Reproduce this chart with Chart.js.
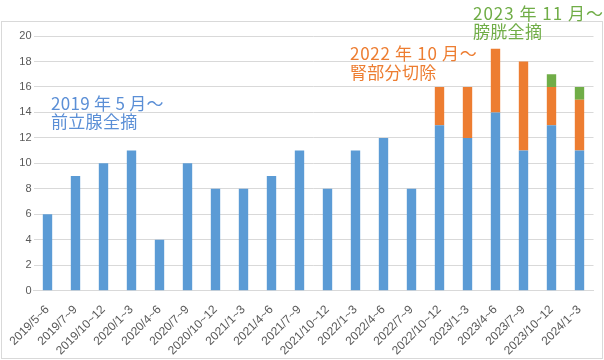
<!DOCTYPE html>
<html>
<head>
<meta charset="utf-8">
<script src="https://cdn.jsdelivr.net/npm/chart.js@4"></script>
<style>
  body { margin: 0; background: #fff; }
  canvas { display: block; }
</style>
</head>
<body>
<canvas id="barChart" width="604" height="360"></canvas>
<script>
// 四半期ごとの件数
const quarters = ['2019/5~6', '2019/7~9', '2019/10~12', '2020/1~3', '2020/4~6', '2020/7~9', '2020/10~12',
  '2021/1~3', '2021/4~6', '2021/7~9', '2021/10~12', '2022/1~3', '2022/4~6', '2022/7~9', '2022/10~12',
  '2023/1~3', '2023/4~6', '2023/7~9', '2023/10~12', '2024/1~3'];
const prostate = [6, 9, 10, 11, 4, 10, 8, 8, 9, 11, 8, 11, 12, 8, 13, 12, 14, 11, 13, 11];
const kidney = [null, null, null, null, null, null, null, null, null, null, null, null, null, null, 3, 4, 5, 7, 3, 4];
const bladder = [null, null, null, null, null, null, null, null, null, null, null, null, null, null, null, null, null, null, 1, 1];
const yTicks = [0, 2, 4, 6, 8, 10, 12, 14, 16, 18, 20];

const blue = '#5B9BD5', orange = '#ED7D31', green = '#70AD47';

// 注記テキスト
const notes = [
  { lines: ['2019 年 5 月～', '前立腺全摘'], x: 51, y: [109.5, 128], color: '#5B8FD6', spacing: '0.3px' },
  { lines: ['2022 年 10 月～', '腎部分切除'], x: 350, y: [60, 78.5], color: orange, spacing: '0.7px' },
  { lines: ['2023 年 11 月～', '膀胱全摘'], x: 473, y: [20.3, 38], color: green, spacing: '1px' }
];

const framePlugin = {
  id: 'frame',
  beforeDraw(chart) {
    const ctx = chart.ctx;
    ctx.save();
    ctx.fillStyle = '#fff';
    ctx.fillRect(0, 0, chart.width, chart.height);
    ctx.strokeStyle = '#D9D9D9';
    ctx.lineWidth = 1;
    ctx.strokeRect(1.5, 21.5, 601, 337);
    ctx.restore();
  },
  afterDraw(chart) {
    const ctx = chart.ctx;
    ctx.save();
    ctx.font = '17px "Noto Sans CJK JP", sans-serif';
    ctx.textBaseline = 'alphabetic';
    ctx.textAlign = 'left';
    notes.forEach(n => {
      ctx.fillStyle = n.color;
      n.lines.forEach((t, i) => {
        ctx.letterSpacing = i === 0 ? n.spacing : '0.3px';
        ctx.fillText(t, n.x, n.y[i]);
      });
    });
    ctx.restore();
  }
};

new Chart(document.getElementById('barChart'), {
  type: 'bar',
  data: {
    labels: quarters,
    datasets: [
      { data: prostate, backgroundColor: blue },
      { data: kidney, backgroundColor: orange },
      { data: bladder, backgroundColor: green }
    ]
  },
  options: {
    responsive: false,
    animation: false,
    layout: { padding: { left: 0, top: 36, right: 10.5, bottom: 0 } },
    datasets: { bar: { categoryPercentage: 1, barPercentage: 0.335 } },
    plugins: { legend: { display: false }, tooltip: { enabled: false } },
    scales: {
      x: {
        stacked: true,
        afterFit(s) { s.height = 69.3; },
        grid: { display: false },
        border: { color: '#D9D9D9' },
        ticks: {
          autoSkip: false, minRotation: 45, maxRotation: 45, padding: 4,
          color: '#595959',
          font: { family: "'Liberation Sans', sans-serif", size: 12 }
        }
      },
      y: {
        stacked: true,
        min: 0, max: 20,
        afterFit(s) { s.width = 33.5; },
        afterBuildTicks(s) { s.ticks = yTicks.map(v => ({ value: v })); },
        border: { display: false },
        grid: { color: '#D9D9D9', drawTicks: false },
        ticks: {
          padding: 2, color: '#595959',
          font: { family: "'Liberation Sans', sans-serif", size: 11 }
        }
      }
    }
  },
  plugins: [framePlugin]
});
</script>
</body>
</html>
